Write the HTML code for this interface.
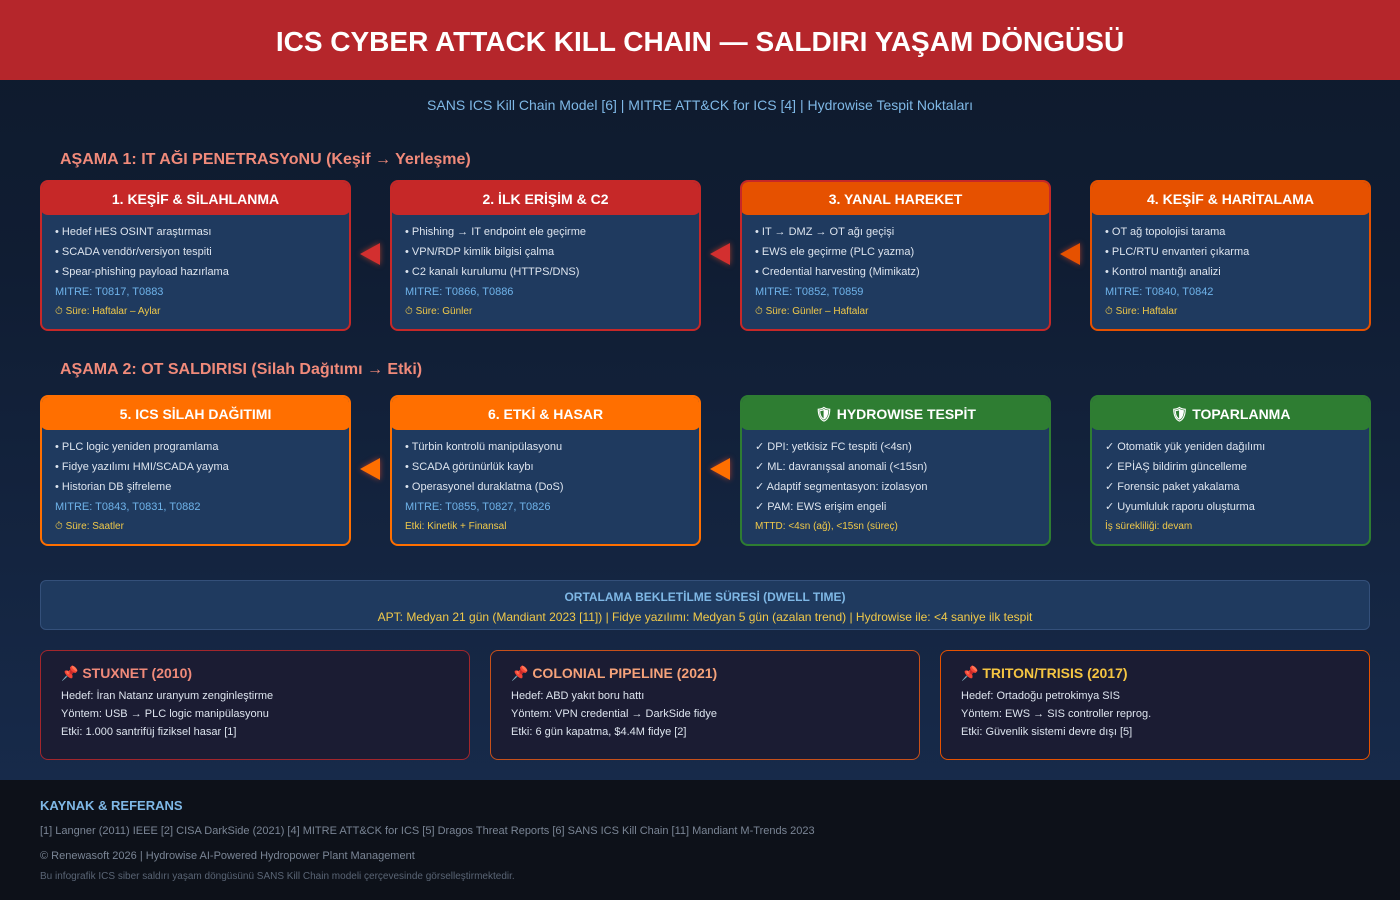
<!DOCTYPE html>
<html><head><meta charset="utf-8"><style>
*{margin:0;padding:0;box-sizing:border-box}
body{width:1400px;height:900px;overflow:hidden;font-family:"Liberation Sans",sans-serif;background:linear-gradient(#0e1a2c 0%,#101d33 30%,#172a4a 87%);position:relative}
.abs{position:absolute}
.hdr{left:0;top:0;width:1400px;height:80px;background:#b5262b;color:#fff;font-weight:bold;font-size:28px;text-align:center;line-height:84px}
.sub{top:97px;width:1400px;text-align:center;color:#7fb8e6;font-size:14px}
.sec{left:60px;color:#f08a7a;font-weight:bold;font-size:16px}
.card{border:2px solid;border-radius:8px;background:#1f3a5f;overflow:hidden}
.card .h{height:35px;margin:-2px -2px 0 -2px;color:#fff;font-weight:bold;font-size:14px;text-align:center;line-height:39px;border-radius:8px 8px 8px 8px}
.card .b{padding:6px 0 0 13px;font-size:11px;color:#dde4ee}
.card .b div{height:20px;line-height:22px}
.m{color:#6fb3ea}.y{color:#f0c94a;font-size:10px}.g{color:#8fd07f}
.arr{width:0;height:0;border-top:11px solid transparent;border-bottom:11px solid transparent;border-right:20px solid #d32f2f;filter:drop-shadow(0 0 3px rgba(255,80,40,.6))}
.dw{left:40px;top:580px;width:1330px;height:50px;border:1px solid #34507a;border-radius:6px;background:#1f3a5f;text-align:center}
.inc{top:650px;width:430px;height:110px;border:1.5px solid;border-radius:8px;background:#1b1c33;padding:14px 0 0 20px;font-size:11px;color:#dde4ee}
.inc .t{font-weight:bold;font-size:14px;margin-bottom:5px}
.inc div.l{height:18px;line-height:19px}
.ft{left:0;top:780px;width:1400px;height:120px;background:#0d1119}
</style></head><body>
<div class="abs hdr">ICS CYBER ATTACK KILL CHAIN — SALDIRI YAŞAM DÖNGÜSÜ</div>
<div class="abs sub">SANS ICS Kill Chain Model [6] | MITRE ATT&amp;CK for ICS [4] | Hydrowise Tespit Noktaları</div>
<div class="abs sec" style="top:151px">AŞAMA 1: IT AĞI PENETRASYoNU (Keşif → Yerleşme)</div>

<div class="abs card" style="left:40px;top:180px;width:311px;height:151px;border-color:#c62828"><div class="h" style="background:#c62828">1. KEŞİF &amp; SİLAHLANMA</div><div class="b"><div>• Hedef HES OSINT araştırması</div><div>• SCADA vendör/versiyon tespiti</div><div>• Spear-phishing payload hazırlama</div><div class="m">MITRE: T0817, T0883</div><div class="y">⏱ Süre: Haftalar – Aylar</div></div></div>
<div class="abs card" style="left:390px;top:180px;width:311px;height:151px;border-color:#c62828"><div class="h" style="background:#c62828">2. İLK ERİŞİM &amp; C2</div><div class="b"><div>• Phishing → IT endpoint ele geçirme</div><div>• VPN/RDP kimlik bilgisi çalma</div><div>• C2 kanalı kurulumu (HTTPS/DNS)</div><div class="m">MITRE: T0866, T0886</div><div class="y">⏱ Süre: Günler</div></div></div>
<div class="abs card" style="left:740px;top:180px;width:311px;height:151px;border-color:#c62828"><div class="h" style="background:#e65100">3. YANAL HAREKET</div><div class="b"><div>• IT → DMZ → OT ağı geçişi</div><div>• EWS ele geçirme (PLC yazma)</div><div>• Credential harvesting (Mimikatz)</div><div class="m">MITRE: T0852, T0859</div><div class="y">⏱ Süre: Günler – Haftalar</div></div></div>
<div class="abs card" style="left:1090px;top:180px;width:281px;height:151px;border-color:#e65100"><div class="h" style="background:#e65100">4. KEŞİF &amp; HARİTALAMA</div><div class="b"><div>• OT ağ topolojisi tarama</div><div>• PLC/RTU envanteri çıkarma</div><div>• Kontrol mantığı analizi</div><div class="m">MITRE: T0840, T0842</div><div class="y">⏱ Süre: Haftalar</div></div></div>
<div class="abs arr" style="left:360px;top:243px"></div>
<div class="abs arr" style="left:710px;top:243px"></div>
<div class="abs arr" style="left:1060px;top:243px;border-right-color:#e65100"></div>

<div class="abs sec" style="top:361px">AŞAMA 2: OT SALDIRISI (Silah Dağıtımı → Etki)</div>
<div class="abs card" style="left:40px;top:395px;width:311px;height:151px;border-color:#ff6f00"><div class="h" style="background:#ff6f00">5. ICS SİLAH DAĞITIMI</div><div class="b"><div>• PLC logic yeniden programlama</div><div>• Fidye yazılımı HMI/SCADA yayma</div><div>• Historian DB şifreleme</div><div class="m">MITRE: T0843, T0831, T0882</div><div class="y">⏱ Süre: Saatler</div></div></div>
<div class="abs card" style="left:390px;top:395px;width:311px;height:151px;border-color:#ff6f00"><div class="h" style="background:#ff6f00">6. ETKİ &amp; HASAR</div><div class="b"><div>• Türbin kontrolü manipülasyonu</div><div>• SCADA görünürlük kaybı</div><div>• Operasyonel duraklatma (DoS)</div><div class="m">MITRE: T0855, T0827, T0826</div><div class="y">Etki: Kinetik + Finansal</div></div></div>
<div class="abs card" style="left:740px;top:395px;width:311px;height:151px;border-color:#2e7d32"><div class="h" style="background:#2e7d32">🛡 HYDROWISE TESPİT</div><div class="b g"><div>✓ DPI: yetkisiz FC tespiti (&lt;4sn)</div><div>✓ ML: davranışsal anomali (&lt;15sn)</div><div>✓ Adaptif segmentasyon: izolasyon</div><div>✓ PAM: EWS erişim engeli</div><div class="y">MTTD: &lt;4sn (ağ), &lt;15sn (süreç)</div></div></div>
<div class="abs card" style="left:1090px;top:395px;width:281px;height:151px;border-color:#2e7d32"><div class="h" style="background:#2e7d32">🛡 TOPARLANMA</div><div class="b g"><div>✓ Otomatik yük yeniden dağılımı</div><div>✓ EPİAŞ bildirim güncelleme</div><div>✓ Forensic paket yakalama</div><div>✓ Uyumluluk raporu oluşturma</div><div class="y">İş sürekliliği: devam</div></div></div>
<div class="abs arr" style="left:360px;top:458px;border-right-color:#ff6f00"></div>
<div class="abs arr" style="left:710px;top:458px;border-right-color:#ff6f00"></div>

<div class="abs dw"><div style="color:#7fb8e6;font-weight:bold;font-size:12px;margin-top:9px">ORTALAMA BEKLETİLME SÜRESİ (DWELL TIME)</div><div style="color:#f0c94a;font-size:12px;margin-top:6px">APT: Medyan 21 gün (Mandiant 2023 [11]) | Fidye yazılımı: Medyan 5 gün (azalan trend) | Hydrowise ile: &lt;4 saniye ilk tespit</div></div>

<div class="abs inc" style="left:40px;border-color:#a3262c"><div class="t" style="color:#f08a7a">📌 STUXNET (2010)</div><div class="l">Hedef: İran Natanz uranyum zenginleştirme</div><div class="l">Yöntem: USB → PLC logic manipülasyonu</div><div class="l">Etki: 1.000 santrifüj fiziksel hasar [1]</div></div>
<div class="abs inc" style="left:490px;border-color:#c8501a"><div class="t" style="color:#f5a27a">📌 COLONIAL PIPELINE (2021)</div><div class="l">Hedef: ABD yakıt boru hattı</div><div class="l">Yöntem: VPN credential → DarkSide fidye</div><div class="l">Etki: 6 gün kapatma, $4.4M fidye [2]</div></div>
<div class="abs inc" style="left:940px;border-color:#e65100"><div class="t" style="color:#f5c542">📌 TRITON/TRISIS (2017)</div><div class="l">Hedef: Ortadoğu petrokimya SIS</div><div class="l">Yöntem: EWS → SIS controller reprog.</div><div class="l">Etki: Güvenlik sistemi devre dışı [5]</div></div>

<div class="abs ft">
<div class="abs" style="left:40px;top:18px;color:#7fb8e6;font-weight:bold;font-size:13px">KAYNAK &amp; REFERANS</div>
<div class="abs" style="left:40px;top:45px;color:#7a8595;font-size:11px">[1] Langner (2011) IEEE [2] CISA DarkSide (2021) [4] MITRE ATT&amp;CK for ICS [5] Dragos Threat Reports [6] SANS ICS Kill Chain [11] Mandiant M-Trends 2023</div>
<div class="abs" style="left:40px;top:70px;color:#7a8595;font-size:11px">© Renewasoft 2026 | Hydrowise AI-Powered Hydropower Plant Management</div>
<div class="abs" style="left:40px;top:91px;color:#5a6575;font-size:10px">Bu infografik ICS siber saldırı yaşam döngüsünü SANS Kill Chain modeli çerçevesinde görselleştirmektedir.</div>
</div>
</body></html>
